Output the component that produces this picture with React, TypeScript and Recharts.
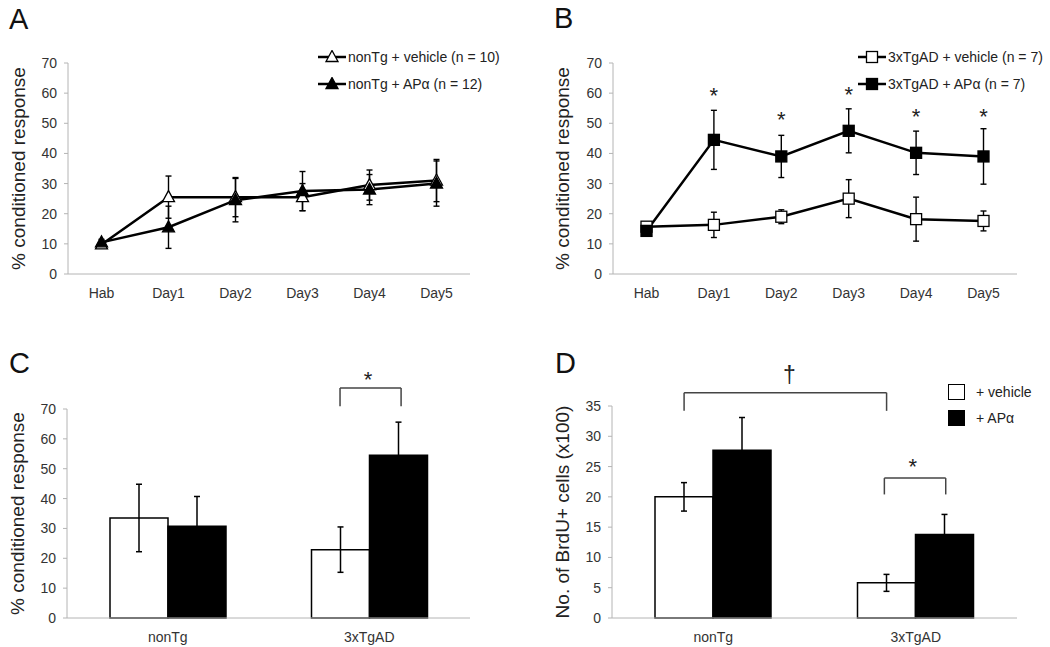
import {
  LineChart, Line, BarChart, Bar, XAxis, YAxis, ErrorBar,
  Legend, ReferenceLine, ReferenceDot,
} from "recharts";

const FONT = '"Liberation Sans", Arial, Helvetica, sans-serif';
const AXIS = "#b4b4b4";
const TEXT = "#333";

// shared categories
const days = ["Hab", "Day1", "Day2", "Day3", "Day4", "Day5"];
const groups = ["nonTg", "3xTgAD"];

// A: nonTg
const nonTgVehicle = [9.8, 25.5, 25.5, 25.5, 29.5, 31];
const nonTgVehicleSem = [0.8, 7, 6.5, 4.5, 5, 7];
const nonTgApa = [10.5, 15.5, 24.5, 27.5, 28, 30];
const nonTgApaSem = [1, 7, 7.2, 6.5, 5, 7.5];

// B: 3xTgAD
const tgVehicle = [15.7, 16.3, 19, 25, 18.2, 17.6];
const tgVehicleSem = [1, 4.2, 2.3, 6.3, 7.3, 3.3];
const tgApa = [14.3, 44.5, 39, 47.5, 40.2, 39];
const tgApaSem = [1, 9.8, 7, 7.3, 7.2, 9.2];
const tgStars = [null, 61, 53, 61.4, 54, 54];

// C: % conditioned response (probe)
const crVehicle = [33.5, 22.9];
const crVehicleSem = [11.3, 7.6];
const crApa = [30.7, 54.5];
const crApaSem = [10, 11.1];

// D: BrdU+ cells (x100)
const brduVehicle = [20, 5.8];
const brduVehicleSem = [2.35, 1.4];
const brduApa = [27.7, 13.8];
const brduApaSem = [5.4, 3.3];

const crTicks = [0, 10, 20, 30, 40, 50, 60, 70];
const brduTicks = [0, 5, 10, 15, 20, 25, 30, 35];

const rowsA = days.map((d, i) => ({ day: d, veh: nonTgVehicle[i], vehSem: nonTgVehicleSem[i], apa: nonTgApa[i], apaSem: nonTgApaSem[i] }));
const rowsB = days.map((d, i) => ({ day: d, veh: tgVehicle[i], vehSem: tgVehicleSem[i], apa: tgApa[i], apaSem: tgApaSem[i] }));
const rowsC = groups.map((g, i) => ({ group: g, veh: crVehicle[i], vehSem: crVehicleSem[i], apa: crApa[i], apaSem: crApaSem[i] }));
const rowsD = groups.map((g, i) => ({ group: g, veh: brduVehicle[i], vehSem: brduVehicleSem[i], apa: brduApa[i], apaSem: brduApaSem[i] }));

const TICK = { fill: TEXT, fontSize: 14, fontFamily: FONT };
const ORDER = ["veh", "apa"];
const byOrder = (payload?: any[]) =>
  [...(payload || [])].sort((a, b) => ORDER.indexOf(a.dataKey) - ORDER.indexOf(b.dataKey));

type Kind = "triOpen" | "tri" | "sqOpen" | "sq";

function marker(kind: Kind, cx: number, cy: number, key?: number) {
  const open = kind === "triOpen" || kind === "sqOpen";
  const fill = open ? "#fff" : "#000";
  if (kind === "tri" || kind === "triOpen") {
    return (
      <polygon key={key} points={`${cx},${cy - 6.5} ${cx - 6},${cy + 4.5} ${cx + 6},${cy + 4.5}`}
        fill={fill} stroke="#000" strokeWidth={1.3} />
    );
  }
  return <rect key={key} x={cx - 5.5} y={cy - 5.5} width={11} height={11} fill={fill} stroke="#000" strokeWidth={1.3} />;
}

const vLabel = (text: string, x: number) => (props: any) => {
  const vb = props.viewBox || {};
  const y = vb.y + vb.height / 2;
  return (
    <text x={x} y={y} transform={`rotate(-90 ${x} ${y})`} textAnchor="middle" dominantBaseline="central"
      fontFamily={FONT} fontSize={19} fill="#222">
      {text}
    </text>
  );
};

function LineLegend({ payload, shapes }: { payload?: any[]; shapes: Record<string, Kind> }) {
  return (
    <div style={{ fontFamily: FONT, fontSize: 14, color: "#222" }}>
      {byOrder(payload).map((p) => (
        <div key={p.dataKey} style={{ display: "flex", alignItems: "center", height: 27 }}>
          <svg width={30} height={14} style={{ display: "block" }}>
            <line x1={0} x2={28} y1={7} y2={7} stroke="#000" strokeWidth={2.5} />
            {marker(shapes[p.dataKey], 14, 7)}
          </svg>
          <span style={{ whiteSpace: "nowrap" }}>{p.value}</span>
        </div>
      ))}
    </div>
  );
}

function BarLegend({ payload }: { payload?: any[] }) {
  return (
    <div style={{ fontFamily: FONT, fontSize: 14, color: "#222" }}>
      {byOrder(payload).map((p) => (
        <div key={p.dataKey} style={{ display: "flex", alignItems: "center", height: 26 }}>
          <div style={{ width: 15, height: 14, border: "1px solid #000", background: p.dataKey === "veh" ? "#fff" : "#000", marginRight: 11 }} />
          <span style={{ whiteSpace: "nowrap" }}>{p.value}</span>
        </div>
      ))}
    </div>
  );
}

// bracket positions as fractions of the plot width
interface Bracket { x1: number; x2: number; top: number; end: number; mark: string; mx: number; my: number }

const bracketC: Bracket[] = [{ x1: 0.6775, x2: 0.829, top: 77, end: 70.9, mark: "*", mx: 0.747, my: 81.5 }];
const bracketD: Bracket[] = [
  { x1: 0.178, x2: 0.678, top: 37.2, end: 34.2, mark: "\u2020", mx: 0.438, my: 39.9 },
  { x1: 0.6725, x2: 0.824, top: 23.1, end: 20.4, mark: "*", mx: 0.7425, my: 25.8 },
];

function markText(mark: string, cx: number, cy: number) {
  const star = mark === "*";
  const fs = star ? 22 : 23;
  return (
    <text x={cx} y={cy + (star ? 0.58 : 0.3) * fs} textAnchor="middle" fontFamily={FONT} fontSize={fs} fill="#222">
      {mark}
    </text>
  );
}

function bracketEls(b: Bracket, i: number) {
  const line = { xAxisId: "pos", stroke: "#444", strokeWidth: 1.5, ifOverflow: "visible" as const };
  return [
    <ReferenceLine key={`l${i}`} {...line} segment={[{ x: b.x1, y: b.end }, { x: b.x1, y: b.top }]} />,
    <ReferenceLine key={`t${i}`} {...line} segment={[{ x: b.x1, y: b.top }, { x: b.x2, y: b.top }]} />,
    <ReferenceLine key={`r${i}`} {...line} segment={[{ x: b.x2, y: b.top }, { x: b.x2, y: b.end }]} />,
    <ReferenceDot key={`m${i}`} xAxisId="pos" x={b.mx} y={b.my} ifOverflow="visible"
      shape={(p: any) => markText(b.mark, p.cx, p.cy)} />,
  ];
}

const letter = (t: string, left: number, top: number) => (
  <div style={{ position: "absolute", left, top, fontFamily: FONT, fontSize: 29, lineHeight: 1, color: "#111" }}>{t}</div>
);

function LinePanel({ rows, names, shapes, marginLeft, marginRight, labelX, legendLeft, stars }: any) {
  return (
    <LineChart width={525} height={320} data={rows}
      margin={{ top: 63, right: marginRight, bottom: 16, left: marginLeft }}>
      <XAxis dataKey="day" height={30} padding={{ left: 33.5, right: 33.5 }} tick={TICK}
        axisLine={{ stroke: AXIS }} tickLine={false} tickMargin={8} />
      <YAxis width={40} domain={[0, 70]} ticks={crTicks} tick={TICK} axisLine={{ stroke: AXIS }}
        tickLine={{ stroke: AXIS }} tickSize={4} tickMargin={7}
        label={{ content: vLabel("% conditioned response", labelX) }} />
      <Legend layout="vertical" align="center" verticalAlign="middle"
        wrapperStyle={{ left: legendLeft, top: 43.5, width: "auto", height: "auto" }}
        content={(p: any) => <LineLegend payload={p.payload} shapes={shapes} />} />
      <Line dataKey="veh" name={names[0]} stroke="#000" strokeWidth={2.5} isAnimationActive={false}
        dot={(p: any) => marker(shapes.veh, p.cx, p.cy, p.index)}>
        <ErrorBar dataKey="vehSem" width={3} stroke="#000" strokeWidth={1.4} direction="y" />
      </Line>
      <Line dataKey="apa" name={names[1]} stroke="#000" strokeWidth={2.5} isAnimationActive={false}
        dot={(p: any) => marker(shapes.apa, p.cx, p.cy, p.index)}>
        <ErrorBar dataKey="apaSem" width={3} stroke="#000" strokeWidth={1.4} direction="y" />
      </Line>
      {(stars || []).map((s: number | null, i: number) =>
        s == null ? null : (
          <ReferenceDot key={i} x={days[i]} y={s} ifOverflow="visible"
            shape={(p: any) => markText("*", p.cx, p.cy)} />
        ))}
    </LineChart>
  );
}

function BarPanel({ rows, domain, ticks, label, marginLeft, marginRight, marginTop, labelX, brackets, legend }: any) {
  return (
    <BarChart width={525} height={327} data={rows} barGap={0} barSize={58}
      margin={{ top: marginTop, right: marginRight, bottom: 9, left: marginLeft }}>
      <XAxis dataKey="group" height={20} tick={TICK} axisLine={{ stroke: AXIS }} tickLine={false} tickMargin={8} />
      <XAxis xAxisId="pos" type="number" domain={[0, 1]} allowDataOverflow hide />
      <YAxis width={40} domain={domain} ticks={ticks} tick={TICK} axisLine={{ stroke: AXIS }}
        tickLine={{ stroke: AXIS }} tickSize={4} tickMargin={7}
        label={{ content: vLabel(label, labelX) }} />
      {legend && (
        <Legend layout="vertical" align="center" verticalAlign="middle"
          wrapperStyle={{ left: 423, top: 59, width: "auto", height: "auto" }}
          content={(p: any) => <BarLegend payload={p.payload} />} />
      )}
      <Bar dataKey="veh" name="+ vehicle" fill="#fff" stroke="#000" strokeWidth={1.5} isAnimationActive={false}>
        <ErrorBar dataKey="vehSem" width={3} stroke="#000" strokeWidth={1.5} direction="y" />
      </Bar>
      <Bar dataKey="apa" name="+ APα" fill="#000" stroke="#000" strokeWidth={1.5} isAnimationActive={false}>
        <ErrorBar dataKey="apaSem" width={3} stroke="#000" strokeWidth={1.5} direction="y" />
      </Bar>
      {brackets.map((b: Bracket, i: number) => bracketEls(b, i))}
    </BarChart>
  );
}

export default function App() {
  return (
    <div style={{ position: "absolute", left: 0, top: 0, width: 1050, height: 647, background: "#fff", overflow: "hidden" }}>
      <div style={{ position: "absolute", left: 0, top: 0 }}>
        <LinePanel rows={rowsA} names={["nonTg + vehicle (n = 10)", "nonTg + APα (n = 12)"]}
          shapes={{ veh: "triOpen", apa: "tri" }} marginLeft={28} marginRight={55} labelX={18} legendLeft={318} />
      </div>
      <div style={{ position: "absolute", left: 525, top: 0 }}>
        <LinePanel rows={rowsB} names={["3xTgAD + vehicle (n = 7)", "3xTgAD + APα (n = 7)"]}
          shapes={{ veh: "sqOpen", apa: "sq" }} marginLeft={48} marginRight={33} labelX={37} legendLeft={333}
          stars={tgStars} />
      </div>
      <div style={{ position: "absolute", left: 0, top: 320 }}>
        <BarPanel rows={rowsC} domain={[0, 70]} ticks={crTicks} label="% conditioned response"
          marginLeft={27} marginRight={55} marginTop={89} labelX={17} brackets={bracketC} />
      </div>
      <div style={{ position: "absolute", left: 525, top: 320 }}>
        <BarPanel rows={rowsD} domain={[0, 35]} ticks={brduTicks} label="No. of BrdU+ cells (x100)"
          marginLeft={47} marginRight={33} marginTop={86} labelX={37} brackets={bracketD} legend />
      </div>
      {letter("A", 9, 5)}
      {letter("B", 554, 4)}
      {letter("C", 9, 349)}
      {letter("D", 555, 349)}
    </div>
  );
}
